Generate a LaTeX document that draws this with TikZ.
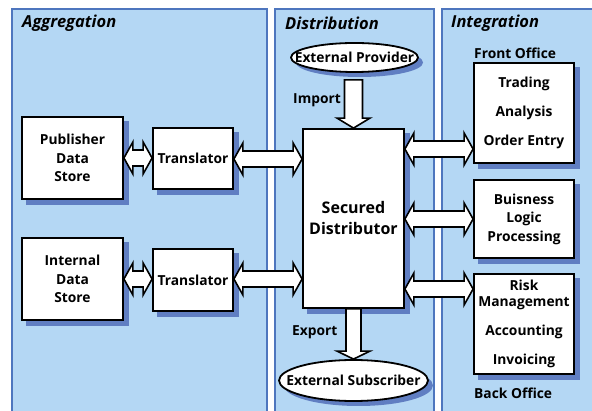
\documentclass[tikz,border=0pt]{standalone}
\usepackage{fontspec}
\setmainfont{Open Sans}
\usetikzlibrary{calc,shapes.geometric}

\definecolor{panelfill}{RGB}{180,215,244}
\definecolor{panelline}{RGB}{78,118,190}
\definecolor{shadowblue}{RGB}{96,126,194}

\tikzset{
  panel/.style={fill=panelfill, draw=panelline, line width=1.6pt},
  box/.style={draw=black, line width=1.8pt, fill=white, align=center, inner sep=0pt,
    font=\bfseries\fontsize{13.8}{18.5}\selectfont},
  oval/.style={ellipse, draw=black, line width=1.8pt, fill=white, inner sep=0pt},
  ovaltext/.style={font=\bfseries\fontsize{13.8}{16}\selectfont, inner sep=0pt},
  heading/.style={anchor=west, inner sep=0pt, font=\bfseries\itshape\fontsize{16.5}{19}\selectfont},
  tag/.style={anchor=west, inner sep=0pt, font=\bfseries\fontsize{13.8}{16}\selectfont},
  fatarrow/.style={draw=black, line width=1.6pt, fill=white, line join=miter},
  shadowfill/.style={fill=shadowblue, draw=none},
  shadowstroke/.style={draw=shadowblue, line width=5pt, line cap=butt, line join=miter},
}

% shadow strip, 5 wide, along the right and bottom sides of a box
\newcommand\boxshadow[1]{%
  \draw[shadowstroke] ($(#1.north east)+(2.5,5)$) -- ($(#1.south east)+(2.5,2.5)$)
    -- ($(#1.south west)+(5,2.5)$);}
% solid shadow behind an oval: centre, half width, half height
\newcommand\ovalshadow[3]{%
  \path[shadowfill] ($(#1)+(5,5)$) ellipse [x radius=#2, y radius=#3];}

% horizontal two-headed block arrow: left anchor, right anchor, y
\def\fatHL{9}\def\fatHH{16}\def\fatSH{8}
\newcommand\hfat[3]{%
  \draw[fatarrow] (#1 |- 0,#3) -- ++(\fatHL,-\fatHH) -- ++(0,\fatHH-\fatSH)
    -- ($(#2 |- 0,#3)+(-\fatHL,-\fatSH)$) -- ++(0,\fatSH-\fatHH)
    -- (#2 |- 0,#3) -- ++(-\fatHL,\fatHH) -- ++(0,\fatSH-\fatHH)
    -- ($(#1 |- 0,#3)+(\fatHL,\fatSH)$) -- ++(0,\fatHH-\fatSH) -- cycle;}

% vertical one-headed block arrow: top point, tip point, half shaft, half head, head length
\newcommand\vfat[5]{%
  \draw[fatarrow] ($(#1)+(-#3,0)$) -- ($(#2)+(-#3,-#5)$) -- ($(#2)+(-#4,-#5)$)
    -- (#2) -- ($(#2)+(#4,-#5)$) -- ($(#2)+(#3,-#5)$) -- ($(#1)+(#3,0)$) -- cycle;}

\begin{document}
\begin{tikzpicture}[x=1pt, y=-1pt]
  \useasboundingbox (0,0) rectangle (592,411);
  \begin{scope}
  \clip (0,0) rectangle (592,411);
  \fill[white] (0,0) rectangle (592,411);

  % three swim lanes
  \draw[panel] (12,9) rectangle (267,430);
  \draw[panel] (275,9) rectangle (434,430);
  \draw[panel] (442,9) rectangle (610,430);

  \node[heading] (hagg) at (22,23) {Aggregation};
  \node[heading] (hdis) at (285,23) {Distribution};
  \node[heading] (hint) at (451,23) {Integration};

  % oval shadows go under the ovals
  \coordinate (provc) at (354.5,57.5);
  \coordinate (subsc) at (353.5,380.5);
  \ovalshadow{provc}{63.5}{14.5}
  \ovalshadow{subsc}{74.5}{20.5}

  % aggregation side
  \node[box, minimum width=101pt, minimum height=82pt] (pub) at (72.5,158) {Publisher\\Data\\Store};
  \node[box, minimum width=80pt, minimum height=61pt] (tr1) at (193,158.5) {Translator};
  \node[box, minimum width=101pt, minimum height=82pt] (ids) at (72.5,279) {Internal\\Data\\Store};
  \node[box, minimum width=80pt, minimum height=62pt] (tr2) at (193,280) {Translator};

  % distribution
  \node[box, minimum width=101pt, minimum height=179pt,
        font=\bfseries\fontsize{16}{21}\selectfont] (dist) at (353.5,218.5) {Secured\\Distributor};
  \node[oval, minimum width=127pt, minimum height=29pt,
        label={[ovaltext]center:External Provider}] (prov) at (provc) {};
  \node[oval, minimum width=149pt, minimum height=41pt,
        label={[ovaltext]center:External Subscriber}] (subs) at (subsc) {};
  \node[tag] (limp) at (293,100) {Import};
  \node[tag] (lexp) at (292,332) {Export};

  % integration
  \node[tag] (lfront) at (474,53) {Front Office};
  \node[tag] (lback) at (474,393) {Back Office};
  \node[box, minimum width=100pt, minimum height=100pt] (trade) at (524,113)
    {Trading\\[10.5pt]Analysis\\[10.5pt]Order Entry};
  \node[box, minimum width=100pt, minimum height=78pt] (logic) at (524,219)
    {Buisness\\Logic\\Processing};
  \node[box, minimum width=100pt, minimum height=100pt] (risk) at (524,324)
    {Risk\\[-3pt]Management\\[10.5pt]Accounting\\[10.5pt]Invoicing};

  % box shadows along the right and bottom sides
  \boxshadow{pub}
  \boxshadow{tr1}
  \boxshadow{ids}
  \boxshadow{tr2}
  \boxshadow{dist}
  \boxshadow{trade}
  \boxshadow{logic}
  \boxshadow{risk}

  % connectors
  \hfat{pub.east}{tr1.west}{158}
  \hfat{tr1.east}{dist.west}{159}
  \hfat{ids.east}{tr2.west}{279}
  \hfat{tr2.east}{dist.west}{279}
  \hfat{dist.east}{trade.west}{149}
  \hfat{dist.east}{logic.west}{219}
  \hfat{dist.east}{risk.west}{289}

  \vfat{$(dist.north |- prov.south)+(0,7)$}{dist.north}{9}{16.5}{10}
  \vfat{dist.south}{dist.south |- subs.north}{7.5}{16.5}{8}
  \end{scope}
\end{tikzpicture}
\end{document}
